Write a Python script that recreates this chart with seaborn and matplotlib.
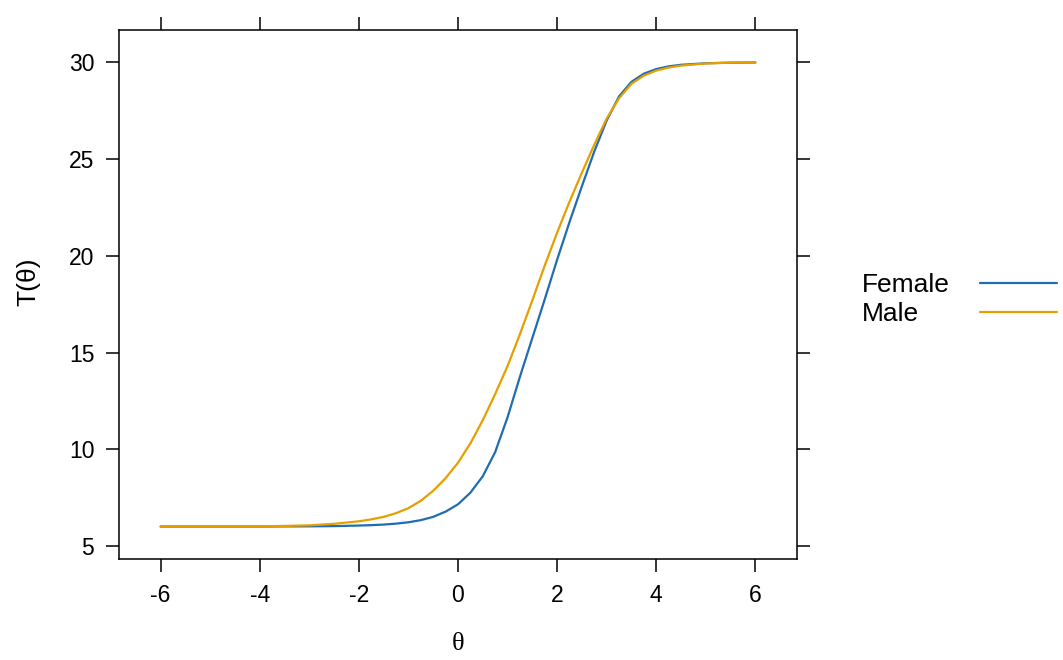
import matplotlib
matplotlib.use("Agg")
import matplotlib.pyplot as plt
import seaborn as sns
import pandas as pd

theta = [-6, -5, -4, -3.5, -3, -2.5, -2, -1.75, -1.5, -1.25, -1, -0.75,
         -0.5, -0.25, 0, 0.25, 0.5, 0.75, 1, 1.25, 1.5, 1.75, 2, 2.25, 2.5,
         2.75, 3, 3.25, 3.5, 3.75, 4, 4.25, 4.5, 5, 5.5, 6]
female = [6.00, 6.00, 6.00, 6.005, 6.01, 6.02, 6.05, 6.07, 6.10, 6.15, 6.22,
          6.33, 6.50, 6.77, 7.15, 7.75, 8.60, 9.85, 11.65, 13.75, 15.75,
          17.75, 19.80, 21.75, 23.60, 25.40, 27.00, 28.25, 29.00, 29.42,
          29.66, 29.80, 29.88, 29.96, 29.99, 30.00]
male = [6.00, 6.00, 6.01, 6.03, 6.06, 6.14, 6.27, 6.37, 6.50, 6.69, 6.95,
        7.33, 7.85, 8.50, 9.30, 10.30, 11.50, 12.85, 14.30, 15.95, 17.70,
        19.50, 21.20, 22.80, 24.30, 25.75, 27.10, 28.15, 28.90, 29.32, 29.58,
        29.74, 29.84, 29.95, 29.99, 30.00]
groups = ["Female", "Male"]
colors = ["#1F6DB0", "#E69F00"]
x_ticks = [-6, -4, -2, 0, 2, 4, 6]
y_ticks = [5, 10, 15, 20, 25, 30]

df = pd.DataFrame({
    "theta": theta * 2,
    "T": female + male,
    "group": [groups[0]] * len(theta) + [groups[1]] * len(theta),
})

sns.set_theme(style="white")
plt.rcParams["font.family"] = ["Liberation Sans", "DejaVu Sans"]
plt.rcParams["axes.unicode_minus"] = False
for k in ["text.color", "axes.labelcolor", "xtick.color", "ytick.color",
          "axes.edgecolor"]:
    plt.rcParams[k] = "black"

fig = plt.figure(figsize=(10.63, 6.6), dpi=100)
ax = fig.add_axes([119 / 1063, 1 - 559 / 660, (797 - 119) / 1063, (559 - 30) / 660])

sns.lineplot(data=df, x="theta", y="T", hue="group", hue_order=groups,
             palette=dict(zip(groups, colors)), linewidth=1.6, ax=ax)

ax.set_xlim(-6.84, 6.84)
ax.set_ylim(4.32, 31.68)
ax.set_xticks(x_ticks)
ax.set_yticks(y_ticks)
ax.set_xticklabels([str(v) for v in x_ticks])
ax.set_yticklabels([str(v) for v in y_ticks])
ax.tick_params(axis="both", which="both", direction="out", length=9.3, width=1.1,
               color="black", labelcolor="black", labelsize=16.5, pad=8.5,
               top=True, right=True, bottom=True, left=True,
               labeltop=False, labelright=False)
for s in ax.spines.values():
    s.set_visible(True)
    s.set_color("black")
    s.set_linewidth(1.1)

ax.set_xlabel("θ", fontsize=19, family=["Liberation Serif", "DejaVu Serif"])
ax.set_ylabel("T(θ)", fontsize=19)
ax.xaxis.label.set_va("center")
ax.xaxis.set_label_coords(0.5, (559 - 644) / 529)
ax.yaxis.label.set_va("center")
ax.yaxis.set_label_coords((28 - 119) / 678, (559 - 282) / 529)

handles, labels = ax.get_legend_handles_labels()
leg = ax.legend(handles, labels, loc="center left",
                bbox_to_anchor=(862 / 1063, 1 - 299.5 / 660),
                bbox_transform=fig.transFigure, frameon=False, markerfirst=False,
                fontsize=19, handlelength=2.92, handletextpad=1.14,
                labelspacing=0.19, borderpad=0, borderaxespad=0)
# align legend texts left while keeping the line handles in one column
fig.canvas.draw()
r = fig.canvas.get_renderer()
widths = [t.get_window_extent(r).width for t in leg.get_texts()]
maxw = max(widths)
for col in leg._legend_handle_box.get_children():
    for item, w in zip(col.get_children(), widths):
        item.sep += (maxw - w) * 72.0 / fig.dpi

fig.savefig("out.png", dpi=100)
